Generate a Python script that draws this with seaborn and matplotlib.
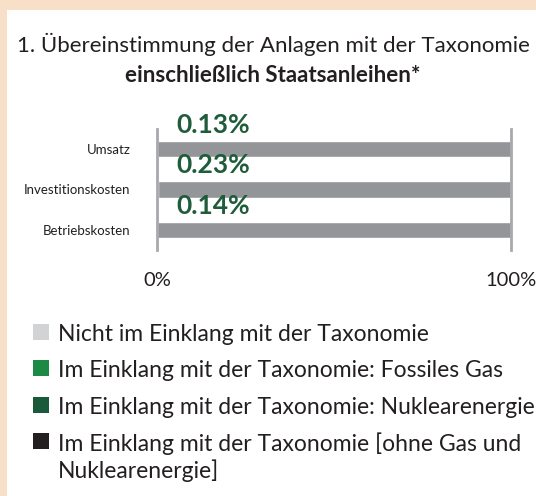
import matplotlib
matplotlib.use("Agg")
import matplotlib.pyplot as plt
from matplotlib.patches import Rectangle
import seaborn as sns
import pandas as pd

# Data
categories = ["Umsatz", "Investitionskosten", "Betriebskosten"]
aligned = [0.13, 0.23, 0.14]
not_aligned = [99.87, 99.77, 99.86]
x_ticks = [0, 100]
x_tick_labels = ["0%", "100%"]
legend_labels = [
    "Nicht im Einklang mit der Taxonomie",
    "Im Einklang mit der Taxonomie: Fossiles Gas",
    "Im Einklang mit der Taxonomie: Nuklearenergie",
    "Im Einklang mit der Taxonomie [ohne Gas und\nNuklearenergie]",
]
title_line1 = "1. Übereinstimmung der Anlagen mit der Taxonomie"
title_line2 = "einschließlich Staatsanleihen*"

# Colours
PEACH = "#F8E0C8"
BAR_GRAY = "#939598"
AXIS_GRAY = "#A7A9AC"
LABEL_GREEN = "#1E5C3A"
TEXT = "#231F20"
legend_colors = ["#D1D3D4", "#1B8A45", "#195A3A", "#231F20"]

sns.set_theme(style="white")
plt.rcParams["font.family"] = ["Lato", "DejaVu Sans"]

W, H = 536, 496
fig = plt.figure(figsize=(W / 100, H / 100), dpi=100)
fig.patch.set_facecolor(PEACH)
fig.add_artist(Rectangle((7 / W, 0), 1, 1 - 10 / H, transform=fig.transFigure,
                         facecolor="white", edgecolor="none", zorder=0))

# Title
fig.text(273 / W, 1 - 44 / H, title_line1, ha="center", va="center",
         fontsize=16, color=TEXT)
fig.text(273 / W, 1 - 75 / H, title_line2, ha="center", va="center",
         fontsize=16, fontweight="bold", color=TEXT)

# Bars: full stacked total in grey, aligned share on top
df = pd.DataFrame({
    "Kategorie": categories,
    "aligned": aligned,
    "total": [a + n for a, n in zip(aligned, not_aligned)],
})
ax = fig.add_axes([157 / W, 1 - 250 / H, 354 / W, 121 / H])
ax.set_facecolor("none")
sns.barplot(data=df, y="Kategorie", x="total", color=BAR_GRAY, width=0.41,
            saturation=1, ax=ax)
sns.barplot(data=df, y="Kategorie", x="aligned", color=legend_colors[3], width=0.41,
            saturation=1, ax=ax)

ax.set_xlim(0, 100)
ax.set_ylim(2.5, -0.5)
ax.set_xlabel("")
ax.set_ylabel("")
ax.set_xticks(x_ticks)
ax.set_xticklabels(x_tick_labels, fontsize=14.5, color=TEXT)
ax.tick_params(axis="x", length=0, pad=16)
ax.tick_params(axis="y", length=0, pad=19, labelsize=9.5, labelcolor=TEXT)
for side in ("top", "bottom"):
    ax.spines[side].set_visible(False)
for side in ("left", "right"):
    ax.spines[side].set_visible(True)
    ax.spines[side].set_color(AXIS_GRAY)
    ax.spines[side].set_linewidth(2)

for i, v in enumerate(aligned):
    ax.text(16, i - 0.6, f"{v:.2f}%", ha="center", va="center", fontsize=19,
            fontweight="bold", color=LABEL_GREEN, clip_on=False)

# Legend (square + label per entry; wrapped labels keep the square on line one)
baselines = [341, 377, 414, 450]
line_step = 28
for y, label, col in zip(baselines, legend_labels, legend_colors):
    fig.add_artist(Rectangle((33 / W, 1 - (y - 1) / H), 16 / W, 16 / H,
                             transform=fig.transFigure, facecolor=col,
                             edgecolor="none"))
    extra = (label.count("\n")) * line_step
    fig.text(58 / W, 1 - (y + extra) / H, label, ha="left", va="baseline",
             fontsize=16.5, color=TEXT, linespacing=1.25)

fig.savefig("out.png", dpi=100, facecolor=PEACH)
